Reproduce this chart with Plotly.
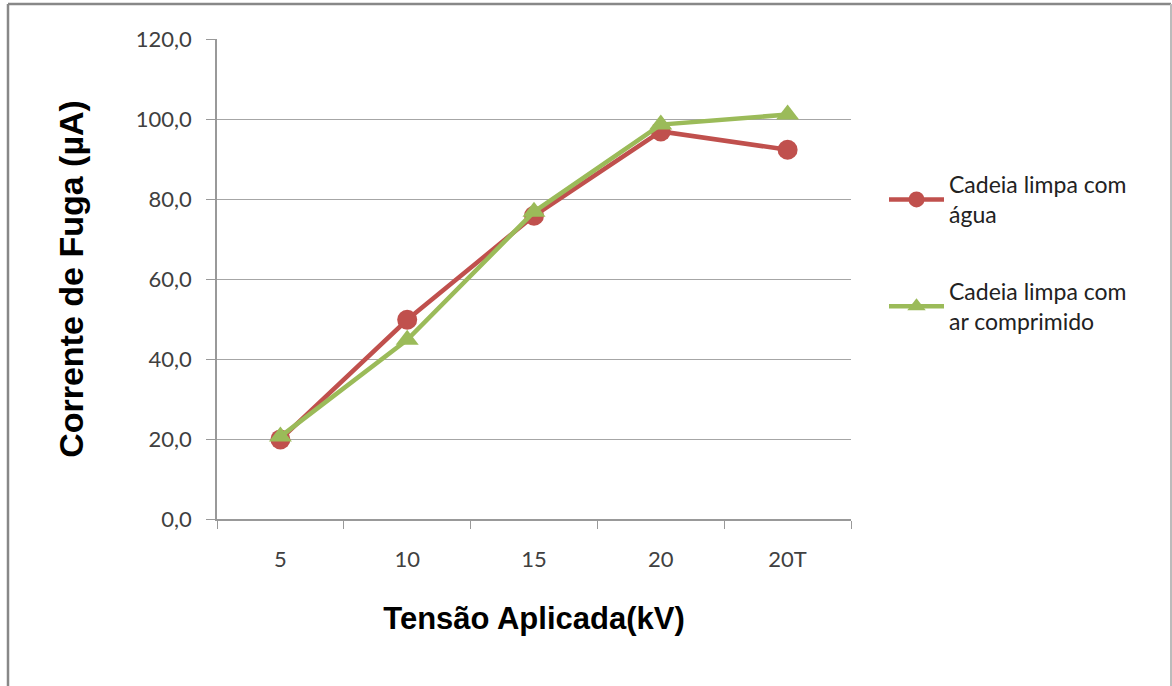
import plotly.graph_objects as go

# Applied voltage steps and measured leakage current (µA)
categories = ["5", "10", "15", "20", "20T"]
agua = [19.9, 49.8, 75.8, 96.9, 92.3]
ar_comprimido = [20.6, 44.8, 76.8, 98.6, 101.1]
y_ticks = [0, 20, 40, 60, 80, 100, 120]
y_tick_labels = ["0,0", "20,0", "40,0", "60,0", "80,0", "100,0", "120,0"]

RED = "#C0504D"
GREEN = "#9BBB59"
TICK_FONT = dict(family="Lato, Open Sans, sans-serif", size=22, color="#404040")

fig = go.Figure()
fig.add_trace(go.Scatter(
    x=categories, y=agua, mode="lines+markers",
    name="Cadeia limpa com<br>água", legendgroup="agua",
    line=dict(color=RED, width=4.5),
    marker=dict(symbol="circle", size=20, color=RED),
))
fig.add_trace(go.Scatter(
    x=categories, y=ar_comprimido, mode="lines+markers",
    name="Cadeia limpa com<br>ar comprimido", legendgroup="ar",
    line=dict(color=GREEN, width=4.5),
    marker=dict(symbol="triangle-up", size=20, color=GREEN),
))

L, R, T, B = 217, 321, 39, 167
W, H = 1172, 686
pw, ph = W - L - R, H - T - B


def px(x):
    return (x - L) / pw


def py(y):
    return (H - B - y) / ph


fig.update_layout(
    width=W, height=H,
    margin=dict(l=L, r=R, t=T, b=B),
    paper_bgcolor="white", plot_bgcolor="white",
    showlegend=True,
    legend=dict(
        x=px(884), y=py(163), xanchor="left", yanchor="top",
        font=dict(family="Lato, Open Sans, sans-serif", size=23, color="#222222"),
        tracegroupgap=44, itemwidth=55, bgcolor="rgba(0,0,0,0)",
    ),
    xaxis=dict(
        type="category", tickson="boundaries", range=[-0.5, 4.5],
        showline=True, linecolor="#999999", linewidth=1.5,
        ticks="outside", ticklen=8, tickcolor="#999999",
        showgrid=False, tickfont=TICK_FONT, ticklabelstandoff=20,
        title=dict(text="<b>Tensão Aplicada(kV)</b>", standoff=36,
                   font=dict(family="Liberation Sans, Arial", size=31, color="black")),
    ),
    yaxis=dict(
        range=[0, 120], tickvals=y_ticks, ticktext=y_tick_labels,
        showline=True, linecolor="#999999", linewidth=1.5,
        ticks="outside", ticklen=9, tickcolor="#999999",
        showgrid=True, gridcolor="#A6A6A6", gridwidth=1.2,
        zeroline=False, tickfont=TICK_FONT, ticklabelstandoff=10,
        title=dict(text="<b>Corrente de Fuga (µA)</b>", standoff=42,
                   font=dict(family="Liberation Sans, Arial", size=34, color="black")),
    ),
    shapes=[
        dict(type="line", xref="paper", yref="paper", x0=px(8), x1=px(8), y0=py(4), y1=py(700),
             line=dict(color="#888888", width=2.5)),
        dict(type="line", xref="paper", yref="paper", x0=px(8), x1=px(1171), y0=py(4), y1=py(4),
             line=dict(color="#888888", width=2.5)),
        dict(type="line", xref="paper", yref="paper", x0=px(1171), x1=px(1171), y0=py(4), y1=py(700),
             line=dict(color="#BBBBBB", width=2)),
    ],
)

fig.write_html("out.html")
